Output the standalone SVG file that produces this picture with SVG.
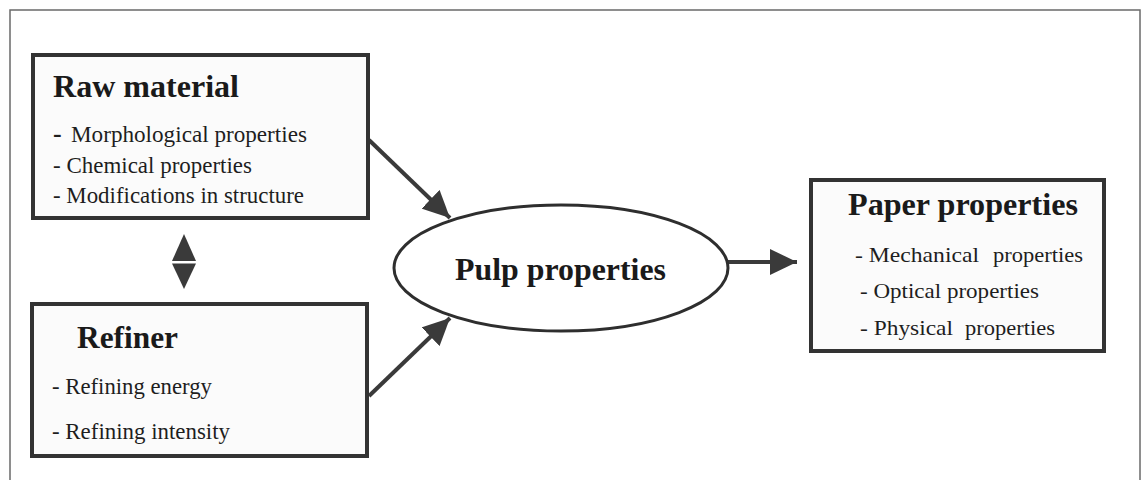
<svg xmlns="http://www.w3.org/2000/svg" width="1143" height="480" viewBox="0 0 1143 480">
  <style>
    .frame { fill: #ffffff; stroke: #6a6a6a; stroke-width: 1.5; }
    .box { fill: #fbfbfb; stroke: #333333; stroke-width: 4; }
    .oval { fill: #ffffff; stroke: #2e2e2e; stroke-width: 3; }
    .title { font-family: "Liberation Serif", "Times New Roman", serif; font-weight: bold; font-size: 31px; fill: #1a1a1a; }
    .item { font-family: "Liberation Serif", "Times New Roman", serif; font-size: 22.5px; fill: #1e1e1e; }
    .item-r { font-family: "Liberation Serif", "Times New Roman", serif; font-size: 21.5px; fill: #1e1e1e; }
    .link { stroke: #3a3a3a; stroke-width: 4; fill: none; }
    .head { fill: #3a3a3a; }
  </style>
  <defs>
    <marker id="arrow" markerUnits="userSpaceOnUse" markerWidth="28" markerHeight="26" refX="27" refY="13" orient="auto">
      <path class="head" d="M0,0 L27,13 L0,26 Z"/>
    </marker>
  </defs>

  <!-- outer frame -->
  <rect class="frame" x="10" y="10" width="1130" height="480"/>

  <!-- connectors -->
  <g id="connectors">
    <line class="link" x1="369" y1="140" x2="450" y2="218" marker-end="url(#arrow)"/>
    <line class="link" x1="369" y1="396" x2="450" y2="318" marker-end="url(#arrow)"/>
    <line class="link" x1="728" y1="262" x2="797" y2="262" marker-end="url(#arrow)"/>
    <!-- two-way link between raw material and refiner -->
    <g id="two-way">
      <path class="head" d="M172,261 L196,261 L184,234 Z"/>
      <path class="head" d="M172,263.5 L196,263.5 L184,289 Z"/>
    </g>
  </g>

  <g id="raw-material">
    <rect class="box" x="33" y="55" width="335" height="163"/>
    <text class="title" x="53" y="97" textLength="186" lengthAdjust="spacingAndGlyphs">Raw material</text>
    <text class="item" x="53" y="142"><tspan font-size="26" font-weight="bold">-</tspan><tspan x="71" textLength="236" lengthAdjust="spacingAndGlyphs">Morphological properties</tspan></text>
    <text class="item" x="53" y="173" textLength="199" lengthAdjust="spacingAndGlyphs">- Chemical properties</text>
    <text class="item" x="53" y="203" textLength="251" lengthAdjust="spacingAndGlyphs">- Modifications in structure</text>
  </g>

  <g id="refiner">
    <rect class="box" x="32" y="304" width="335" height="152"/>
    <text class="title" x="77" y="348" textLength="101" lengthAdjust="spacingAndGlyphs">Refiner</text>
    <text class="item" x="52" y="394" textLength="160" lengthAdjust="spacingAndGlyphs">- Refining energy</text>
    <text class="item" x="52" y="439" textLength="178" lengthAdjust="spacingAndGlyphs">- Refining intensity</text>
  </g>

  <g id="pulp-properties">
    <ellipse class="oval" cx="561" cy="268" rx="167" ry="63"/>
    <text class="title" x="455" y="280" textLength="211" lengthAdjust="spacingAndGlyphs">Pulp properties</text>
  </g>

  <g id="paper-properties">
    <rect class="box" x="811" y="180" width="293" height="171"/>
    <text class="title" x="848" y="215" textLength="230" lengthAdjust="spacingAndGlyphs">Paper properties</text>
    <text class="item-r" x="855" y="262"><tspan textLength="124" lengthAdjust="spacingAndGlyphs">- Mechanical</tspan><tspan x="993" textLength="90" lengthAdjust="spacingAndGlyphs">properties</tspan></text>
    <text class="item-r" x="860" y="298" textLength="179" lengthAdjust="spacingAndGlyphs">- Optical properties</text>
    <text class="item-r" x="860" y="335"><tspan textLength="93" lengthAdjust="spacingAndGlyphs">- Physical</tspan><tspan x="965" textLength="90" lengthAdjust="spacingAndGlyphs">properties</tspan></text>
  </g>
</svg>
